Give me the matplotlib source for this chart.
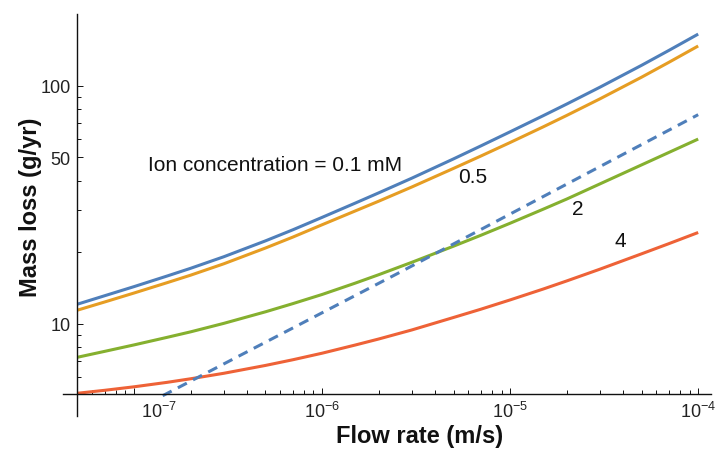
import matplotlib
matplotlib.use("Agg")
import matplotlib.pyplot as plt
from matplotlib.ticker import FixedLocator, FixedFormatter, NullFormatter

plt.rcParams['font.family'] = ['Liberation Sans', 'DejaVu Sans']
plt.rcParams['mathtext.fontset'] = 'custom'
plt.rcParams['mathtext.rm'] = 'Liberation Sans'
plt.rcParams['mathtext.it'] = 'Liberation Sans:italic'
plt.rcParams['mathtext.bf'] = 'Liberation Sans:bold'

# ---- data ----
flow = [5e-8, 7e-8, 1e-7, 1.5e-7, 2e-7, 3e-7, 5e-7, 7e-7, 1e-6, 1.5e-6, 2e-6,
        3e-6, 5e-6, 7e-6, 1e-5, 1.5e-5, 2e-5, 3e-5, 5e-5, 7e-5, 1e-4]
loss_01 = [12.11, 13.15, 14.35, 15.90, 17.13, 19.15, 22.33, 24.86, 28.02, 32.16, 35.51,
           40.92, 49.31, 55.94, 64.07, 74.87, 83.78, 98.54, 121.8, 140.8, 164.7]
loss_05 = [11.43, 12.38, 13.49, 14.91, 16.03, 17.89, 20.84, 23.17, 26.09, 29.81, 32.76,
           37.58, 44.98, 50.72, 57.77, 67.21, 75.05, 88.05, 108.6, 125.5, 146.8]
loss_2 = [7.25, 7.68, 8.17, 8.79, 9.27, 10.06, 11.25, 12.18, 13.30, 14.84, 16.10,
          18.15, 21.21, 23.58, 26.48, 30.33, 33.45, 38.71, 46.53, 52.52, 59.72]
loss_4 = [5.12, 5.27, 5.45, 5.69, 5.89, 6.21, 6.70, 7.08, 7.54, 8.16, 8.65,
          9.44, 10.65, 11.54, 12.62, 14.02, 15.16, 16.98, 19.70, 21.75, 24.21]
flow_dashed = [1.42e-7, 2.6e-6, 1e-4]
loss_dashed = [5.0, 16.5, 75.6]

x_major = [1e-7, 1e-6, 1e-5, 1e-4]
x_labels = ['', r'$10^{-6}$', r'$10^{-5}$', r'$10^{-4}$']
x_first_label = r'$10^{-7}$'
y_major = [10, 50, 100]
y_labels = ['10', '50', '100']
y_minor = [6, 7, 8, 9, 20, 30, 40, 60, 70, 80, 90]
x_minor = [m * 10.0**e for e in range(-8, -4) for m in range(2, 10)]

series_labels = ['Ion concentration = 0.1 mM', '0.5', '2', '4']

c_blue = '#4f7fba'
c_orange = '#e69d23'
c_green = '#85b02f'
c_red = '#ee6237'

W, H = 718, 456
fig = plt.figure(figsize=(W / 100, H / 100), dpi=100)
left, right, bottom, top = 63, 711, 417, 15
ax = fig.add_axes([left / W, (H - bottom) / H, (right - left) / W, (bottom - top) / H])
ax.set_xscale('log')
ax.set_yscale('log')
ax.set_xlim(4.19e-8, 1.17e-4)
ax.set_ylim(4.11, 200)

lw = 2.2
ax.plot(flow, loss_01, color=c_blue, lw=lw, solid_capstyle='butt')
ax.plot(flow, loss_05, color=c_orange, lw=lw, solid_capstyle='butt')
ax.plot(flow, loss_2, color=c_green, lw=lw, solid_capstyle='butt')
ax.plot(flow, loss_4, color=c_red, lw=lw, solid_capstyle='butt')
ax.plot(flow_dashed, loss_dashed, color=c_blue, lw=lw, dashes=(3.3, 2.3))

for s in ['top', 'right']:
    ax.spines[s].set_visible(False)
ax.spines['left'].set_position(('data', 5e-8))
ax.spines['bottom'].set_position(('data', 5.085))
for s in ['left', 'bottom']:
    ax.spines[s].set_linewidth(1.0)
    ax.spines[s].set_color('#111111')

ax.xaxis.set_major_locator(FixedLocator(x_major))
ax.xaxis.set_major_formatter(FixedFormatter(x_labels))
ax.xaxis.set_minor_locator(FixedLocator(x_minor))
ax.xaxis.set_minor_formatter(NullFormatter())
ax.yaxis.set_major_locator(FixedLocator(y_major))
ax.yaxis.set_major_formatter(FixedFormatter(y_labels))
ax.yaxis.set_minor_locator(FixedLocator(y_minor))
ax.yaxis.set_minor_formatter(NullFormatter())
ax.tick_params(which='both', direction='in', width=0.7, colors='#111111',
               labelcolor='#222222', labelsize=13)
ax.tick_params(which='major', length=4.5, pad=5)
ax.tick_params(which='minor', length=2.6)

ax.annotate(x_first_label, xy=(1e-7, 5.085), xycoords='data',
            xytext=(18, -5), textcoords='offset points',
            ha='center', va='top', fontsize=13, color='#222222')

ax.text(1.18e-7, 44.4, series_labels[0], fontsize=15, ha='left', va='baseline', color='#111111')
ax.text(6.36e-6, 41.4, series_labels[1], fontsize=15, ha='center', va='center', color='#111111')
ax.text(2.29e-5, 30.4, series_labels[2], fontsize=15, ha='center', va='center', color='#111111')
ax.text(3.87e-5, 22.5, series_labels[3], fontsize=15, ha='center', va='center', color='#111111')

fig.text(420 / W, 1 - 437 / H, 'Flow rate (m/s)', fontsize=17, fontweight='bold',
         ha='center', va='center', color='#111111')
fig.text(31 / W, 1 - 207 / H, 'Mass loss (g/yr)', fontsize=17, fontweight='bold',
         ha='center', va='center', rotation=90, color='#111111')

fig.savefig('out.png', dpi=100)
